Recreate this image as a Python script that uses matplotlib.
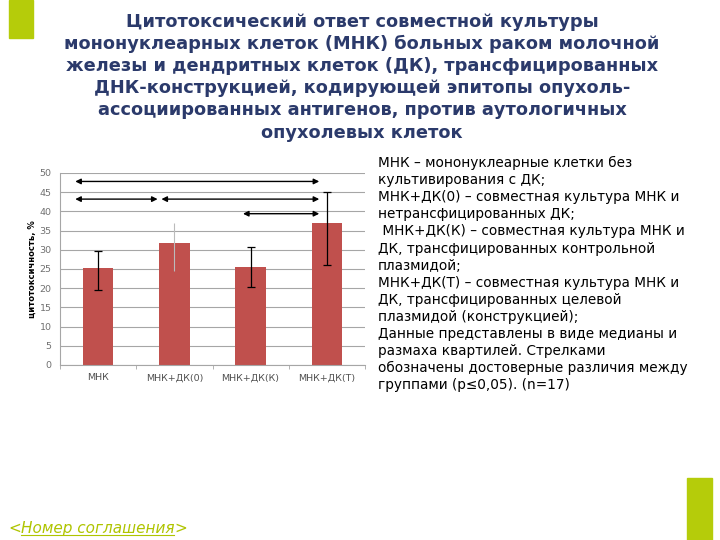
import numpy as np
import matplotlib
matplotlib.use("Agg")
import matplotlib.pyplot as plt

plt.rcParams['font.family'] = ['DejaVu Sans']

# data
groups = ["МНК", "МНК+ДК(0)", "МНК+ДК(К)", "МНК+ДК(Т)"]
medians = [25.2, 31.8, 25.6, 37.1]
q_low = [19.5, 24.6, 20.4, 26.0]
q_high = [29.8, 37.0, 30.6, 45.0]
# significant differences: (from, to, level)
arrow_from = [-0.3, -0.3, 0.83, 1.9]
arrow_to = [2.9, 0.78, 2.9, 2.9]
arrow_y = [47.8, 43.2, 43.2, 39.4]

title = ("Цитотоксический ответ совместной культуры\n"
         "мононуклеарных клеток (МНК) больных раком молочной\n"
         "железы и дендритных клеток (ДК), трансфицированных\n"
         "ДНК-конструкцией, кодирующей эпитопы опухоль-\n"
         "ассоциированных антигенов, против аутологичных\n"
         "опухолевых клеток")
notes = ["МНК – мононуклеарные клетки без",
         "культивирования с ДК;",
         "МНК+ДК(0) – совместная культура МНК и",
         "нетрансфицированных ДК;",
         " МНК+ДК(К) – совместная культура МНК и",
         "ДК, трансфицированных контрольной",
         "плазмидой;",
         "МНК+ДК(Т) – совместная культура МНК и",
         "ДК, трансфицированных целевой",
         "плазмидой (конструкцией);",
         "Данные представлены в виде медианы и",
         "размаха квартилей. Стрелками",
         "обозначены достоверные различия между",
         "группами (р≤0,05). (n=17)"]

fig = plt.figure(figsize=(7.2, 5.4), dpi=100)
green = "#B5CC0A"

# decorative green blocks
fig.patches.append(plt.Rectangle((9/720, 1-38/540), 24/720, 38/540, transform=fig.transFigure,
                                 color=green, zorder=0))
fig.patches.append(plt.Rectangle((687/720, 0), 25/720, 62/540, transform=fig.transFigure,
                                 color=green, zorder=0))

fig.text(0.503, 1-13/540, title, ha="center", va="top", fontsize=12.8, fontweight="bold",
         color="#2B3A6B", linespacing=1.29)

ax = fig.add_axes([60/720, 1-365/540, 305/720, 192/540])
x = np.arange(len(groups))
ax.bar(x, medians, width=0.4, color="#C0504D", zorder=2)
err_lo = np.array(medians) - np.array(q_low)
err_hi = np.array(q_high) - np.array(medians)
for i in range(len(groups)):
    if i == 1:
        ax.errorbar(x[i], medians[i], yerr=[[err_lo[i]], [err_hi[i]]], fmt="none",
                    ecolor="#BBBBBB", elinewidth=0.8, capsize=0, zorder=3)
    else:
        ax.errorbar(x[i], medians[i], yerr=[[err_lo[i]], [err_hi[i]]], fmt="none",
                    ecolor="black", elinewidth=0.9, capsize=3, capthick=0.9, zorder=3)

for a, b, yv in zip(arrow_from, arrow_to, arrow_y):
    ax.annotate("", xy=(b, yv), xytext=(a, yv),
                arrowprops=dict(arrowstyle="<|-|>", color="black", lw=1.0,
                                mutation_scale=8, shrinkA=0, shrinkB=0), zorder=4)

ax.set_xlim(-0.5, 3.5)
ax.set_ylim(0, 50)
ax.set_yticks(np.arange(0, 51, 5))
ax.yaxis.grid(True, color="#A6A6A6", lw=0.8)
ax.set_axisbelow(True)
ax.set_xticks(x)
ax.set_xticklabels(groups)
ax.set_xticks([-0.5, 0.5, 1.5, 2.5, 3.5], minor=True)
ax.tick_params(axis="x", which="major", length=0, labelsize=6.8, colors="#505050", pad=6)
ax.tick_params(axis="x", which="minor", length=3, color="#A6A6A6")
ax.tick_params(axis="y", length=0, labelsize=6.8, colors="#707070", pad=6)
for s in ["top", "right"]:
    ax.spines[s].set_visible(False)
for s in ["left", "bottom"]:
    ax.spines[s].set_color("#A6A6A6")
    ax.spines[s].set_linewidth(0.8)
ax.set_ylabel("цитотоксичность, %", fontsize=6, fontweight="bold", labelpad=2)

y0 = 1 - 156/540
for i, line in enumerate(notes):
    fig.text(378/720, y0 - i*17.1/540, line, ha="left", va="top", fontsize=9.8, color="black")

t1 = fig.text(8/720, 12/540, "<", ha="left", va="center", fontsize=11, color="#AFC400", style="italic")
fig.canvas.draw()
r = fig.canvas.get_renderer()
bb = t1.get_window_extent(r)
t2 = fig.text(bb.x1/720, 12/540, "Номер соглашения", ha="left", va="center", fontsize=11,
              color="#AFC400", style="italic")
bb2 = t2.get_window_extent(r)
fig.text(bb2.x1/720, 12/540, ">", ha="left", va="center", fontsize=11, color="#AFC400", style="italic")
fig.add_artist(plt.Line2D([bb2.x0/720, bb2.x1/720], [(bb2.y0+1)/540]*2, color="#AFC400", lw=0.8))

fig.savefig("out.png", dpi=100)
